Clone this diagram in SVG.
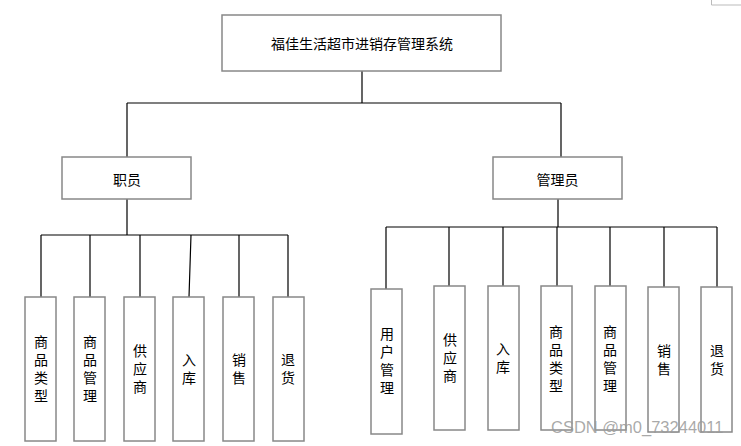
<svg xmlns="http://www.w3.org/2000/svg" width="741" height="446" viewBox="0 0 741 446">
<style>
.box{fill:#fff;stroke:#888;stroke-width:1.5}
.ln{fill:none;stroke:#000;stroke-width:1.2}
.t{font-family:"Noto Sans CJK SC","Liberation Sans",sans-serif;font-size:14px;fill:#000;text-anchor:middle;dominant-baseline:central}
.v{font-family:"Noto Sans CJK SC","Liberation Sans",sans-serif;font-size:14px;fill:#000;text-anchor:middle;writing-mode:vertical-rl;letter-spacing:4px}
.wm{font-family:"Liberation Sans",sans-serif;font-size:16.5px;fill:#9a9a9a;fill-opacity:0.85}
</style>
<rect x="0" y="0" width="741" height="446" fill="#fff"/>
<path d="M711.5 0 V5 H741" fill="none" stroke="#bbb" stroke-width="1"/>
<g id="connectors">
<path class="ln" d="M362 71 V103 M127 103 H561 M127 103 V157 M561 103 V157"/>
<path class="ln" d="M127 199 V235 M41 235 H288 M41 235 V297 M90 235 V297 M140 235 V297 M191 235 L189 297 M239 235 V297 M288 235 V297"/>
<path class="ln" d="M558 199 V227 M386 227 H717 M386 227 V289 M449 227 V286 M503 227 V286 M557 227 V286 M610 227 V286 M664 227 V287 M717 227 V287"/>
</g>
<g id="root"><rect class="box" x="222" y="15" width="279" height="56"/><text class="t" x="362" y="43">福佳生活超市进销存管理系统</text></g>
<g id="staff"><rect class="box" x="62" y="157" width="129" height="42"/><text class="t" x="127" y="179">职员</text></g>
<g id="admin"><rect class="box" x="493" y="157" width="129" height="42"/><text class="t" x="557.5" y="179">管理员</text></g>

<g id="s1"><rect class="box" x="25" y="297" width="31" height="144"/><text class="v" x="41" y="371">商品类型</text></g>
<g id="s2"><rect class="box" x="74" y="297" width="31" height="144"/><text class="v" x="90" y="371">商品管理</text></g>
<g id="s3"><rect class="box" x="124" y="297" width="31" height="144"/><text class="v" x="140" y="371">供应商</text></g>
<g id="s4"><rect class="box" x="173" y="297" width="31" height="144"/><text class="v" x="189" y="371">入库</text></g>
<g id="s5"><rect class="box" x="223" y="297" width="31" height="144"/><text class="v" x="239" y="371">销售</text></g>
<g id="s6"><rect class="box" x="273" y="297" width="31" height="144"/><text class="v" x="288" y="371">退货</text></g>

<g id="a1"><rect class="box" x="371" y="289" width="31" height="145"/><text class="v" x="387" y="363">用户管理</text></g>
<g id="a2"><rect class="box" x="434" y="286" width="31" height="144"/><text class="v" x="450" y="360">供应商</text></g>
<g id="a3"><rect class="box" x="488" y="286" width="31" height="144"/><text class="v" x="503" y="360">入库</text></g>
<g id="a4"><rect class="box" x="541" y="286" width="31" height="144"/><text class="v" x="556" y="361">商品类型</text></g>
<g id="a5"><rect class="box" x="595" y="286" width="31" height="144"/><text class="v" x="610" y="361">商品管理</text></g>
<g id="a6"><rect class="box" x="648" y="287" width="31" height="145"/><text class="v" x="664" y="362">销售</text></g>
<g id="a7"><rect class="box" x="701" y="287" width="31" height="145"/><text class="v" x="717" y="362">退货</text></g>

<text class="wm" x="551" y="433">CSDN @m0_73244011</text>
</svg>
